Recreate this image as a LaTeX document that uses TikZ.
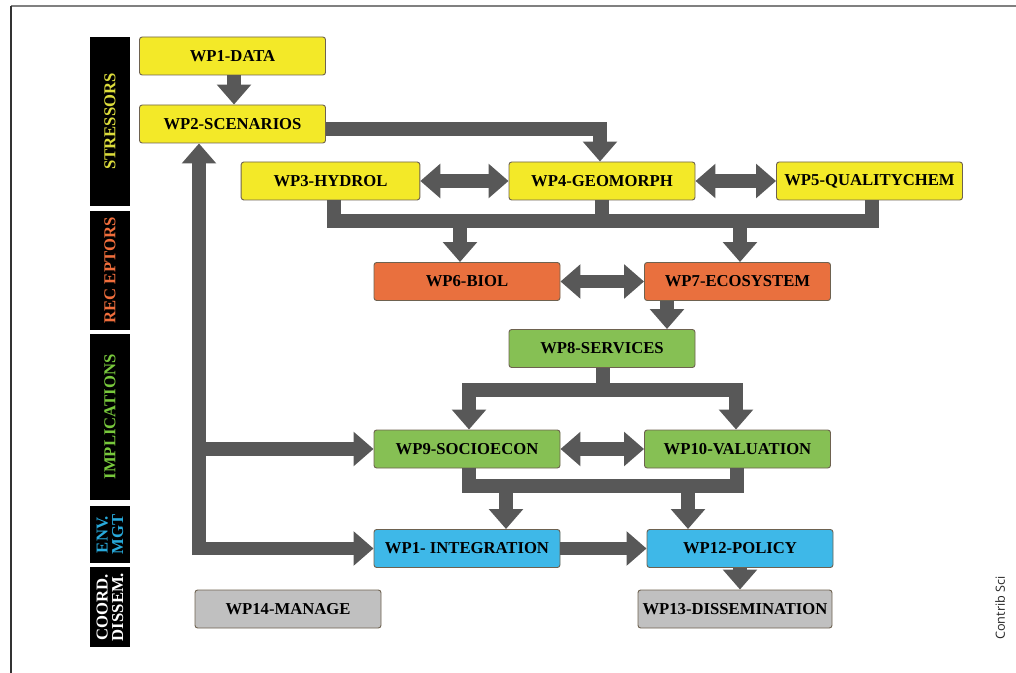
\documentclass[tikz,border=0pt]{standalone}
\usepackage{fontspec}
\setmainfont{Liberation Serif}
\newfontfamily\contribfont{Open Sans}
\usetikzlibrary{arrows.meta}
\definecolor{wpyellow}{RGB}{243,233,40}
\definecolor{wporange}{RGB}{233,112,62}
\definecolor{wpgreen}{RGB}{134,192,84}
\definecolor{wpblue}{RGB}{62,184,232}
\definecolor{wpgray}{RGB}{192,192,192}
\definecolor{arrowgray}{RGB}{88,88,88}
\definecolor{boxedge}{RGB}{110,98,80}
\definecolor{bandyellow}{RGB}{220,220,60}
\definecolor{bandorange}{RGB}{240,110,60}
\definecolor{bandgreen}{RGB}{120,200,60}
\definecolor{bandblue}{RGB}{40,170,220}
\tikzset{
  wpbox/.style={draw=boxedge, line width=0.7pt, rounded corners=2pt,
    minimum width=139.5pt, minimum height=28.5pt, inner sep=0pt,
    font=\fontsize{12.5}{14}\selectfont\bfseries},
  band/.style={fill=black, rotate=90, minimum height=30pt, inner sep=0pt,
    align=center, font=\fontsize{12.5}{11.5}\selectfont\bfseries},
  conn/.style={draw=arrowgray, line width=10pt, line join=miter},
  onehead/.style={conn, -{Triangle[width=25pt,length=15pt]}},
  twohead/.style={conn, {Triangle[width=25pt,length=15pt]}-{Triangle[width=25pt,length=15pt]}},
  bus/.style={conn, line width=11pt}
}
\begin{document}
\begin{tikzpicture}[x=0.75pt,y=-0.75pt]
\useasboundingbox (0,0) rectangle (1016,673);
% frame
\draw[draw=gray, line width=1.6pt] (11,6) -- (1016,6);
\draw[draw=black!80, line width=1.1pt] (11,6) -- (11,673);
% bands
\node[band, minimum width=126.75pt, text=bandyellow] (bS) at (110,121.5) {STRESSORS};
\node[band, minimum width=89.25pt, text=bandorange] (bR) at (110,270.5) {REC EPTORS};
\node[band, minimum width=124.5pt, text=bandgreen] (bI) at (110,417) {IMPLICATIONS};
\node[band, minimum width=42.75pt, text=bandblue] (bE) at (110,534.5) {ENV.\\MGT};
\node[band, minimum width=60pt, text=white] (bC) at (110,607) {COORD.\\DISSEM.};
% work packages
\node[wpbox, fill=wpyellow] (WP1) at (232.5,56) {WP1-DATA};
\node[wpbox, fill=wpyellow] (WP2) at (232.5,124) {WP2-SCENARIOS};
\node[wpbox, fill=wpyellow, minimum width=134pt] (WP3) at (330.5,181) {WP3-HYDROL};
\node[wpbox, fill=wpyellow] (WP4) at (602,181) {WP4-GEOMORPH};
\node[wpbox, fill=wpyellow] (WP5) at (869.5,181) {WP5-QUALITYCHEM};
\node[wpbox, fill=wporange] (WP6) at (467,281.5) {WP6-BIOL};
\node[wpbox, fill=wporange] (WP7) at (737.5,281.5) {WP7-ECOSYSTEM};
\node[wpbox, fill=wpgreen] (WP8) at (602,348.5) {WP8-SERVICES};
\node[wpbox, fill=wpgreen] (WP9) at (467,449) {WP9-SOCIOECON};
\node[wpbox, fill=wpgreen] (WP10) at (737.5,449) {WP10-VALUATION};
\node[wpbox, fill=wpblue] (WP11) at (467,548.5) {WP1- INTEGRATION};
\node[wpbox, fill=wpblue] (WP12) at (740,548.5) {WP12-POLICY};
\node[wpbox, fill=wpgray, minimum width=145.5pt] (WP13) at (735,609) {WP13-DISSEMINATION};
\node[wpbox, fill=wpgray] (WP14) at (288,609) {WP14-MANAGE};
% helper coordinates
\coordinate (c24) at (600,129);
\coordinate (b1L) at (334,221);
\coordinate (b1R) at (872,221);
\coordinate (a6) at (460,221);
\coordinate (a7) at (740,221);
\coordinate (b2L) at (469,390);
\coordinate (b2R) at (736,390);
\coordinate (b3L) at (469,486);
\coordinate (b3R) at (737,486);
\coordinate (a11) at (506,486);
\coordinate (a12) at (688,486);
\coordinate (fbx) at (199,0);
\coordinate (fb) at (WP11.west -| fbx);
\coordinate (fb9) at (WP9.west -| fbx);
% connectors
\draw[onehead] (WP1.south -| 234,0) -- (WP2.north -| 234,0);
\draw[onehead] (WP2.east |- c24) -- (c24) -- (WP4.north -| c24);
\draw[twohead] (WP3.east) -- (WP4.west);
\draw[twohead] (WP4.east) -- (WP5.west);
\draw[bus] (WP3.south -| b1L) -- (b1L) -- (b1R) -- (WP5.south -| b1R);
\draw[bus] (WP4.south) -- (WP4.south |- b1L);
\draw[onehead] (a6) -- (WP6.north -| a6);
\draw[onehead] (a7) -- (WP7.north -| a7);
\draw[twohead] (WP6.east) -- (WP7.west);
\draw[onehead] (WP7.south -| 667,0) -- (WP8.north -| 667,0);
\draw[bus] (WP8.south -| 603,0) -- (603,390);
\draw[onehead] (b2R) -- (b2L) -- (WP9.north -| b2L);
\draw[onehead] (b2L) -- (b2R) -- (WP10.north -| b2R);
\draw[twohead] (WP9.east) -- (WP10.west);
\draw[bus] (WP9.south -| b3L) -- (b3L) -- (b3R) -- (WP10.south -| b3R);
\draw[onehead] (a11) -- (WP11.north -| a11);
\draw[onehead] (a12) -- (WP12.north -| a12);
\draw[onehead] (WP11.east) -- (WP12.west);
\draw[onehead] (WP12.south -| 740,0) -- (WP13.north -| 740,0);
\draw[onehead] ([yshift=-5pt]fb) -- (WP2.south -| fb);
\draw[onehead] (WP11.west -| 194,0) -- (WP11.west);
\draw[onehead] (fb9) -- (WP9.west);
% credit
\node[rotate=90, font=\contribfont\fontsize{9.5}{10}\selectfont, text=black!85] (credit) at (1000,608) {Contrib Sci};
\end{tikzpicture}
\end{document}
